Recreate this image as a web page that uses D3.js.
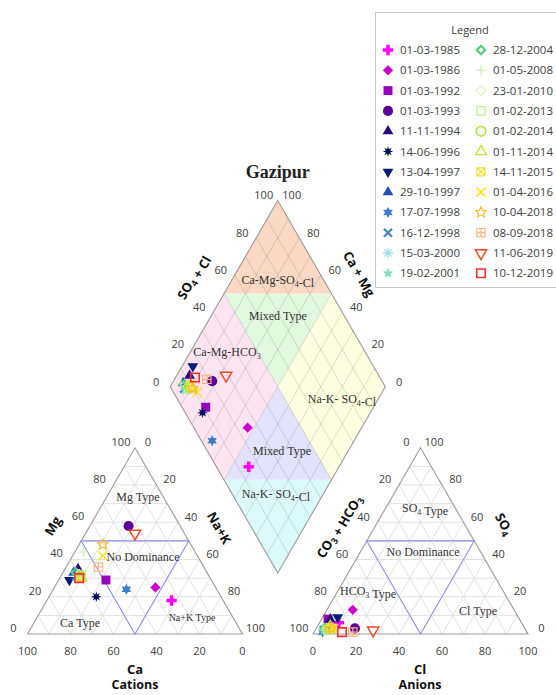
<!DOCTYPE html>
<html><head><meta charset="utf-8">
<script src="https://cdn.jsdelivr.net/npm/d3@7"></script>
<style>
html,body{margin:0;padding:0;background:#fff;}
svg{display:block;}
</style></head>
<body>
<svg id="c" width="556" height="695"></svg>
<script>
// ---------------- DATA ----------------
const dates = ["01-03-1985","01-03-1986","01-03-1992","01-03-1993","11-11-1994","14-06-1996",
  "13-04-1997","29-10-1997","17-07-1998","16-12-1998","15-03-2000","19-02-2001",
  "28-12-2004","01-05-2008","23-01-2010","01-02-2013","01-02-2014","01-11-2014",
  "14-11-2015","01-04-2016","10-04-2018","08-09-2018","11-06-2019","10-12-2019"];
const caPct   = [24,28,49,24,59,58,66,62,42,62,60,61,61,52,60,59,60,60,61,44,41,49,23,61];
const mgPct   = [18,25,29,58,35,20,29,33,24,31,32,31,33,44,32,32,31,30,30,42,48,36,54,30];
const naPct   = [58,47,22,18, 6,22, 5, 5,34, 7, 8, 8, 6, 4, 8, 9, 9,10, 9,14,11,15,23, 9];
const hco3Pct = [85,75,89,79,88,92,84,93,95,94,93,94,93,94,92,92,91,90,90,89,90,81,71,86];
const so4Pct  = [ 6,13, 8, 3, 8, 2, 9, 3, 1, 2, 3, 2, 3, 2, 3, 2, 3, 4, 3, 3, 3, 1, 2, 1];
const clPct   = [ 9,12, 3,18, 4, 6, 7, 4, 4, 4, 4, 4, 4, 4, 5, 6, 6, 6, 7, 8, 7,18,27,13];
const colors = ["#ff00ff","#cc00cc","#9900bb","#5c0099","#2a0a80","#001060",
  "#061a78","#2050b0","#3d7cc9","#3f84c8","#a0e0e8","#7fe0c0",
  "#5cc884","#c8f0b0","#d8f5c0","#c0f090","#a8e030","#d0e040",
  "#f0e040","#ffe020","#f8b820","#f8b888","#f04a28","#f03030"];
const shapes = ["crossF","diamondF","squareF","circleF","triUpF","burst8",
  "triDownF","triUpF","star6","xThick","asterisk","star5F",
  "diamondHthick","plusThin","diamondH","squareH","circleH","triUpH",
  "boxX","xThin","star5H","boxPlus","triDownH","squareH2"];
const tickVals = [0,20,40,60,80,100];

// ---------------- GEOMETRY ----------------
const svg = d3.select("#c");
const side = 215, R3 = Math.sqrt(3);
const LX = 27.5, BY = 634, RX0 = 313;
const sc = d3.scaleLinear().domain([0,100]).range([0, side]);
const DX = (LX + side + RX0) / 2, DY = BY - (RX0 - LX - side) / 2 * R3;

const catPos = (c,m,n) => [LX + sc(m)*0.5 + sc(n), BY - sc(m)*R3/2];
const anPos  = (h,s,cl) => [RX0 + sc(s)*0.5 + sc(cl), BY - sc(s)*R3/2];
const diaPos = (a,b) => [DX + (sc(b)-sc(a))*0.5, DY - (sc(a)+sc(b))*R3/2];

const lerp = (p,q,t) => [p[0]+(q[0]-p[0])*t, p[1]+(q[1]-p[1])*t];
const line = d3.line();

const cL = catPos(100,0,0), cT = catPos(0,100,0), cR = catPos(0,0,100);
const aL = anPos(100,0,0), aT = anPos(0,100,0), aR = anPos(0,0,100);
const dB = diaPos(0,0), dLv = diaPos(100,0), dT = diaPos(100,100), dRv = diaPos(0,100);
const dC = diaPos(50,50);
const mUL = lerp(dLv,dT,0.5), mUR = lerp(dT,dRv,0.5), mLL = lerp(dLv,dB,0.5), mLR = lerp(dB,dRv,0.5);

const regions = [
  {pts:[dT,mUR,mUL], fill:"#fbd8c4"},
  {pts:[mUL,mUR,dC], fill:"#e2f9e0"},
  {pts:[dLv,mUL,dC,mLL], fill:"#fce4f0"},
  {pts:[dRv,mUR,dC,mLR], fill:"#fdfde0"},
  {pts:[dC,mLL,mLR], fill:"#e2e2fa"},
  {pts:[dB,mLL,mLR], fill:"#dcfafa"}
];
svg.append("g").selectAll("path").data(regions).join("path")
  .attr("d", d => line(d.pts)+"Z").attr("fill", d => d.fill);

const gridG = svg.append("g").attr("stroke-width",1).attr("fill","none");
const steps = d3.range(10,100,10).map(v=>v/100);
function triGrid(P0,P1,P2){
  steps.forEach(t=>{
    gridG.append("path").attr("d", line([lerp(P0,P1,t), lerp(P2,P1,t)])).attr("stroke","#e2e2e2");
    gridG.append("path").attr("d", line([lerp(P1,P0,t), lerp(P2,P0,t)])).attr("stroke","#e2e2e2");
    gridG.append("path").attr("d", line([lerp(P0,P2,t), lerp(P1,P2,t)])).attr("stroke","#e2e2e2");
  });
}
triGrid(cL,cT,cR);
triGrid(aL,aT,aR);
steps.forEach(t=>{
  gridG.append("path").attr("d", line([lerp(dB,dRv,t), lerp(dLv,dT,t)])).attr("stroke","rgba(0,0,0,0.12)");
  gridG.append("path").attr("d", line([lerp(dB,dLv,t), lerp(dRv,dT,t)])).attr("stroke","rgba(0,0,0,0.12)");
});

const outG = svg.append("g").attr("fill","none").attr("stroke","#9a9a9a").attr("stroke-width",1.1);
outG.append("path").attr("d", line([cL,cT,cR])+"Z");
outG.append("path").attr("d", line([aL,aT,aR])+"Z");
outG.append("path").attr("d", line([dB,dLv,dT,dRv])+"Z");

const ndG = svg.append("g").attr("fill","none").attr("stroke","#8c8cf2").attr("stroke-width",1.1);
ndG.append("path").attr("d", line([lerp(cL,cT,0.5), lerp(cT,cR,0.5), lerp(cL,cR,0.5)])+"Z");
ndG.append("path").attr("d", line([lerp(aL,aT,0.5), lerp(aT,aR,0.5), lerp(aL,aR,0.5)])+"Z");

// ---------------- TICK LABELS ----------------
const tickG = svg.append("g").attr("font-family","'Open Sans', sans-serif").attr("font-size","11px")
  .attr("fill","#404040").attr("text-anchor","middle");
function tlabel(p, dx, dy, txt){
  tickG.append("text").attr("x", p[0]+dx).attr("y", p[1]+dy).attr("dy","0.35em").text(txt);
}
tickVals.forEach(v=>{
  tlabel(catPos(100-v, v, 0), -14, -6, v);
  tlabel(catPos(100-v, 0, v), 0, 17, 100-v);
  tlabel(catPos(0, 100-v, v), 13, -5.5, v);
  tlabel(anPos(v, 100-v, 0), -14, -5.5, v);
  tlabel(anPos(100-v, 0, v), 0, 17, v);
  tlabel(anPos(0, v, 100-v), 13.5, -5.5, v);
  tlabel(diaPos(100, v), -14, -5, v);
  tlabel(diaPos(v, 100), 14, -5, v);
});

// ---------------- REGION LABELS ----------------
const regG = svg.append("g").attr("font-family","'Liberation Serif', 'Times New Roman', serif")
  .attr("font-size","12px").attr("fill","#333").attr("text-anchor","middle");
function rlabel(x,y,parts,size){
  const t = regG.append("text").attr("x",x).attr("y",y).attr("dy","0.35em");
  if(size) t.attr("font-size",size);
  parts.forEach(p=>{
    if(typeof p === "string") t.append("tspan").text(p);
    else { t.append("tspan").attr("font-size","8px").attr("dy",3).text(p.sub); t.append("tspan").attr("dy",-3).text(""); }
  });
}
rlabel(DX, 280, ["Ca-Mg-SO",{sub:"4"},"-Cl"]);
rlabel(DX, 316, ["Mixed Type"]);
rlabel(227, 352, ["Ca-Mg-HCO",{sub:"3"}]);
rlabel(342, 399, ["Na-K- SO",{sub:"4"},"-Cl"]);
rlabel(282, 451, ["Mixed Type"]);
rlabel(276, 494, ["Na-K- SO",{sub:"4"},"-Cl"]);
rlabel(138, 497, ["Mg Type"]);
rlabel(143, 557, ["No Dominance"]);
rlabel(80, 623, ["Ca Type"]);
rlabel(192, 617, ["Na+K Type"], "10px");
rlabel(425, 508, ["SO",{sub:"4"}," Type"]);
rlabel(423, 552, ["No Dominance"]);
rlabel(368, 591, ["HCO",{sub:"3"}," Type"]);
rlabel(478, 611, ["Cl Type"]);

// ---------------- AXIS TITLES ----------------
const axG = svg.append("g").attr("font-family","'Open Sans', sans-serif").attr("font-size","13px")
  .attr("font-weight","bold").attr("fill","#111").attr("text-anchor","middle");
function atitle(x,y,rot,parts,size){
  const t = axG.append("text").attr("transform",`translate(${x},${y}) rotate(${rot})`).attr("dy","0.35em");
  if(size) t.attr("font-size",size);
  parts.forEach(p=>{
    if(typeof p === "string") t.append("tspan").text(p);
    else { t.append("tspan").attr("font-size","9px").attr("dy",3).text(p.sub); t.append("tspan").attr("dy",-3).text(""); }
  });
}
atitle(53, 526, -60, ["Mg"]);
atitle(219, 528, 60, ["Na+K"]);
atitle(135, 669, 0, ["Ca"]);
atitle(135, 685, 0, ["Cations"], "12.5px");
atitle(338, 526, -60, ["CO",{sub:"3"}," + HCO",{sub:"3"}]);
atitle(504, 524, 60, ["SO",{sub:"4"}]);
atitle(420, 669, 0, ["Cl"]);
atitle(420, 685, 0, ["Anions"], "12.5px");
atitle(193, 277, -60, ["SO",{sub:"4"}," + Cl"]);
atitle(359, 274, 60, ["Ca + Mg"]);

svg.append("text").attr("x", DX).attr("y", 172).attr("dy","0.35em").attr("text-anchor","middle")
  .attr("font-family","'Liberation Serif', 'Times New Roman', serif").attr("font-weight","bold")
  .attr("font-size","18px").attr("fill","#222").text("Gazipur");

// ---------------- MARKERS ----------------
function starPath(n, rO, rI){
  const p=[];
  for(let i=0;i<2*n;i++){ const r = i%2?rI:rO; const a = -Math.PI/2 + i*Math.PI/n; p.push([r*Math.cos(a), r*Math.sin(a)]); }
  return "M"+p.map(q=>q[0].toFixed(2)+","+q[1].toFixed(2)).join("L")+"Z";
}
const sym = (type,size) => d3.symbol(type,size)();
function marker(g, shape, col){
  const P = (d) => g.append("path").attr("d", d);
  switch(shape){
    case "crossF": P(sym(d3.symbolCross,60)).attr("fill",col); break;
    case "diamondF": P(sym(d3.symbolSquare,52)).attr("transform","rotate(45)").attr("fill",col); break;
    case "squareF": P(sym(d3.symbolSquare,80)).attr("fill",col); break;
    case "circleF": P(sym(d3.symbolCircle,80)).attr("fill",col); break;
    case "triUpF": P(sym(d3.symbolTriangle,50)).attr("fill",col); break;
    case "triDownF": P(sym(d3.symbolTriangle,50)).attr("transform","rotate(180)").attr("fill",col); break;
    case "burst8": P(starPath(8,5.2,2.4)).attr("fill",col); break;
    case "star6": P(starPath(6,5.5,3)).attr("fill",col); break;
    case "xThick": P("M-4,-4L4,4M-4,4L4,-4").attr("stroke",col).attr("stroke-width",2.2).attr("fill","none"); break;
    case "asterisk": P("M-5,0H5M0,-5V5M-3.5,-3.5L3.5,3.5M-3.5,3.5L3.5,-3.5").attr("stroke",col).attr("stroke-width",1.3).attr("fill","none"); break;
    case "star5F": P(starPath(5,5.5,2.4)).attr("fill",col); break;
    case "diamondHthick": P(sym(d3.symbolSquare,36)).attr("transform","rotate(45)").attr("stroke",col).attr("stroke-width",2.2).attr("fill","none"); break;
    case "plusThin": P("M-5,0H5M0,-5V5").attr("stroke",col).attr("stroke-width",1.1).attr("fill","none"); break;
    case "diamondH": P(sym(d3.symbolSquare,48)).attr("transform","rotate(45)").attr("stroke",col).attr("stroke-width",1.1).attr("fill","none"); break;
    case "squareH": P(sym(d3.symbolSquare,70)).attr("stroke",col).attr("stroke-width",1.2).attr("fill","none"); break;
    case "circleH": P(sym(d3.symbolCircle,72)).attr("stroke",col).attr("stroke-width",1.5).attr("fill","none"); break;
    case "triUpH": P(sym(d3.symbolTriangle,50)).attr("stroke",col).attr("stroke-width",1.4).attr("fill","none"); break;
    case "triDownH": P(sym(d3.symbolTriangle,55)).attr("transform","rotate(180)").attr("stroke",col).attr("stroke-width",1.5).attr("fill","none"); break;
    case "boxX": P(sym(d3.symbolSquare,64)+"M-4,-4L4,4M-4,4L4,-4").attr("stroke",col).attr("stroke-width",1.3).attr("fill","none"); break;
    case "xThin": P("M-4.5,-4.5L4.5,4.5M-4.5,4.5L4.5,-4.5").attr("stroke",col).attr("stroke-width",1.5).attr("fill","none"); break;
    case "star5H": P(starPath(5,5.5,2.5)).attr("stroke",col).attr("stroke-width",1.1).attr("fill","none"); break;
    case "boxPlus": P(sym(d3.symbolSquare,70)+"M-4.2,0H4.2M0,-4.2V4.2").attr("stroke",col).attr("stroke-width",1.2).attr("fill","none"); break;
    case "squareH2": P(sym(d3.symbolSquare,72)).attr("stroke",col).attr("stroke-width",1.6).attr("fill","none"); break;
  }
}

const ptsG = svg.append("g");
dates.forEach((d,i)=>{
  const p1 = catPos(caPct[i], mgPct[i], naPct[i]);
  const p2 = anPos(hco3Pct[i], so4Pct[i], clPct[i]);
  const p3 = diaPos(caPct[i]+mgPct[i], so4Pct[i]+clPct[i]);
  [p1,p2,p3].forEach(p=>{
    const g = ptsG.append("g").attr("transform",`translate(${p[0]},${p[1]})`);
    marker(g, shapes[i], colors[i]);
  });
});

// ---------------- LEGEND ----------------
const lg = svg.append("g");
lg.append("rect").attr("x",375.5).attr("y",12.5).attr("width",200).attr("height",275)
  .attr("fill","#fff").attr("stroke","#c8c8c8");
lg.append("text").attr("x",470).attr("y",30).attr("dy","0.35em").attr("text-anchor","middle")
  .attr("font-family","'Open Sans', sans-serif").attr("font-size","11px").attr("fill","#404040").text("Legend");
dates.forEach((d,i)=>{
  const col = Math.floor(i/12), row = i%12;
  const y = 50 + row*20.3;
  const mx = col ? 481 : 388, tx = col ? 493 : 400;
  const g = lg.append("g").attr("transform",`translate(${mx},${y})`);
  marker(g, shapes[i], colors[i]);
  lg.append("text").attr("x",tx).attr("y",y).attr("dy","0.35em")
    .attr("font-family","'Open Sans', sans-serif").attr("font-size","11.5px").attr("fill","#404040").text(d);
});
</script>
</body></html>
